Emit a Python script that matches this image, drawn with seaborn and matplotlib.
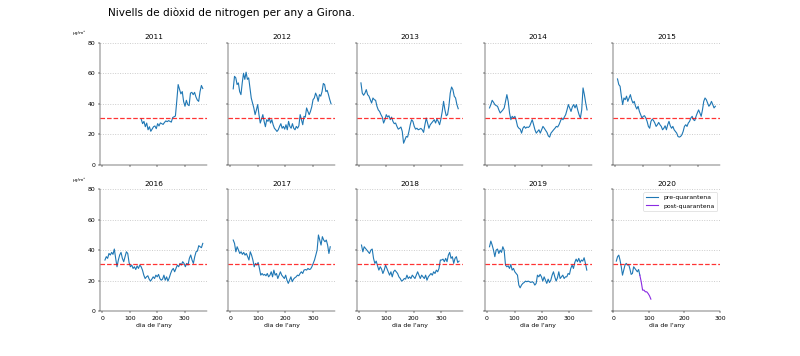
import numpy as np
import matplotlib
matplotlib.use("Agg")
import matplotlib.pyplot as plt
import seaborn as sns

years = [2011, 2012, 2013, 2014, 2015, 2016, 2017, 2018, 2019, 2020]
limit = 31

# first and last day covered by each year's series
day_range = {
    2011: (142, 366), 2012: (10, 366), 2013: (8, 362), 2014: (9, 364),
    2015: (8, 364), 2016: (10, 366), 2017: (10, 363), 2018: (10, 365),
    2019: (9, 363),
}

v2011 = [30, 27, 28.5, 25, 27.4, 23, 25, 22, 23.5, 25, 25.5, 23.7, 27, 25.5, 27.5, 27, 26.5, 27.8,
         28.8, 28.3, 29, 28.5, 28, 31, 31.5, 32, 42, 52.6, 49.5, 46.5, 48, 41.5, 38.4, 42.3, 39.5,
         38.8, 47, 47.5, 46, 47.5, 44.5, 42.5, 41.6, 48, 52, 50]
v2012 = [49.8, 58, 57, 52.6, 53.7, 48, 46, 53.7, 60, 56, 60.7, 56, 57, 50.4, 43.8, 40.5, 37.3, 32.9,
         36, 39.5, 32.9, 27.4, 30, 32.9, 28.5, 25, 29.6, 28.5, 30.7, 27.4, 29.6, 26.3, 24, 23, 21.9,
         23, 25.2, 27, 24, 25.2, 23.4, 26.3, 23, 28.5, 25.2, 24, 27, 24, 23, 25.2, 24, 25.6, 32.9,
         29.6, 26.3, 31.8, 31.3, 37.3, 35, 32.9, 35, 38, 42.7, 43.8, 47, 45, 41.6, 46, 45, 48, 53.3,
         52.6, 48, 48.8, 46, 42.7, 40]
v2013 = [53.7, 47, 45.6, 47, 49.3, 46, 45, 42.7, 40.5, 43.8, 42.7, 42.3, 38.4, 36, 35, 32.9, 31.3,
         27.4, 29.6, 32.9, 31.3, 32.2, 29.6, 31.3, 28.5, 27, 27.4, 25.2, 23.4, 24, 24.8, 21.9, 14.2,
         16.4, 18.6, 18.2, 21.9, 26.3, 29.6, 28.5, 25.2, 23.4, 24, 23, 23.4, 23.9, 23, 21.3, 26.3,
         30.7, 27.4, 24, 26.3, 27.4, 28.5, 29.6, 27.4, 30, 28.5, 26.3, 30, 35, 41.6, 36, 32.2, 32.9,
         38.4, 47, 51, 49.3, 45, 43.8, 39.5, 36.8]
v2014 = [37.3, 39.5, 42.3, 41, 39.5, 38.8, 38.4, 36, 34, 35, 36, 37.3, 41.6, 46, 41.6, 34, 29.6,
         31.8, 30.7, 31.8, 29, 25.2, 24, 23.4, 20.8, 24, 25.2, 24, 24.8, 24.5, 25.2, 27.4, 29.6, 26.3,
         23, 20.8, 21.9, 23, 20.8, 23, 25.2, 24, 22.6, 21.3, 19, 18.2, 20.8, 21.9, 23, 24, 25.2, 24.8,
         26.3, 28.5, 30.7, 29.6, 31.3, 32.9, 36, 39.5, 37.3, 35, 38, 39.5, 37.3, 39.5, 36, 32.9, 30.7,
         36, 50.4, 46, 40.5, 36]
v2015 = [56.3, 52.6, 51.5, 45, 39.5, 43.8, 42.7, 45, 41.6, 43.8, 46, 42.7, 40.5, 41.6, 38.4, 36.6,
         38.4, 35, 32.9, 30.7, 31.8, 32.2, 30.7, 28.5, 25.2, 24, 28.5, 30, 29, 27.4, 25.2, 26.3, 27.8,
         26.3, 25.2, 23, 24, 25.6, 23, 26.3, 28.5, 25.6, 24, 25.2, 23, 21.9, 20.8, 18.6, 18.2, 18.6,
         19.7, 21.9, 25.2, 26.3, 25.2, 27.4, 28.5, 30.7, 31.8, 29.6, 29, 31.8, 34, 36, 34, 31.8, 36,
         41.6, 43.8, 42.7, 40.5, 38.4, 39.5, 41.6, 39.5, 37.3, 38.4]
v2016 = [33.7, 35.9, 34.8, 38, 37, 38.7, 37.4, 40.9, 34.8, 29.3, 33.7, 37, 38.7, 34.8, 32.6, 35.9,
         39.1, 38, 32.1, 29.3, 30.4, 28.2, 29.3, 27.5, 29.9, 28.2, 30.4, 29.3, 27.1, 23.8, 21.6, 22.7,
         23.4, 21.2, 19.9, 21.2, 22.7, 21.6, 23.8, 22.7, 24.3, 21.6, 20.5, 21.2, 23.8, 20.5, 22.7,
         19.9, 22.1, 24.9, 27.1, 28.2, 26, 28.2, 30.4, 29.3, 31.5, 30.4, 32.6, 31.5, 29.3, 31.5, 30.4,
         34.8, 37, 33.7, 31.5, 35.9, 39.1, 39.6, 43.1, 42.4, 41.8, 44.6]
v2017 = [46.8, 44.6, 39.1, 42.4, 40.2, 38, 39.1, 37.4, 38.7, 36.9, 38, 35.9, 33.7, 39.1, 36.9, 33.7,
         29.3, 31.5, 30.4, 32.1, 28.2, 23.8, 24.9, 23.8, 24.3, 23.4, 24.9, 22.7, 23.8, 26, 22.7, 27.1,
         23.8, 24.9, 21.6, 23.8, 26, 23.8, 22.7, 21.6, 23.8, 20.5, 18.4, 20.5, 22.7, 19.5, 21.2, 22.1,
         22.7, 23.8, 23.4, 24.9, 26, 24.9, 27.1, 27.5, 27.1, 28.2, 27.5, 27.8, 29.3, 31.5, 33.7, 36.9,
         40.2, 50.1, 46.8, 43.5, 49, 46.8, 45.7, 46.8, 43.5, 38, 42.4]
v2018 = [43.5, 39.1, 42.4, 41.3, 40.2, 39.1, 38, 40.2, 40.9, 34.8, 31.5, 33, 29.9, 27.1, 29.3, 27.8,
         24.9, 27.1, 30.4, 28.2, 26, 23.8, 26, 22.7, 26, 27.1, 26, 24.9, 22.7, 21.6, 19.9, 20.5, 21.6,
         21.2, 23.8, 21.6, 22.7, 21.6, 23.8, 22.7, 21.6, 23.8, 26, 23.8, 21.6, 23.8, 22.7, 21.6, 23.8,
         20.5, 22.7, 23.8, 24.9, 23.8, 26, 24.9, 27.1, 26, 28.2, 33.7, 33.7, 34.3, 32.6, 34.8, 32.6,
         36.9, 38.7, 34.8, 35.9, 31.5, 34.8, 35.9, 32.1, 33]
v2019 = [42.4, 46.1, 43.5, 40.2, 35.9, 40.2, 40.9, 38, 40.2, 38.7, 42.4, 40.2, 30.4, 29.3, 29.9, 28.2,
         30.8, 27.1, 28.2, 26, 24.9, 23.8, 17.3, 15.5, 17.3, 18.4, 19, 19.9, 19.5, 19.9, 19.5, 19,
         19.5, 19, 17.3, 18.4, 23.8, 22.7, 24.3, 22.7, 19.9, 22.7, 20.5, 18.4, 21.2, 19, 20.5, 23.8,
         26, 22.7, 19.9, 22.1, 26, 21.6, 22.7, 23.8, 21.6, 22.7, 22.7, 24.9, 24.3, 28.2, 30.4, 28.2,
         32.1, 34.3, 32.6, 34.8, 32.1, 33.7, 33, 35.2, 31.5, 27.1]

# 2020: before and after the lockdown (day ~75)
pre_days = (9, 75)
pre_2020 = [33, 35.9, 36.9, 33.7, 29.3, 23.8, 27.1, 30.4, 31.5, 30.4, 30.8, 27.8, 24.3, 24.9, 29.3,
            28.2, 27.1, 26, 27.5, 23.8]
post_days = (75, 106)
post_2020 = [23.8, 19.5, 14, 14, 12.9, 12.9, 11.8, 10.3, 8.1]

series = {2011: v2011, 2012: v2012, 2013: v2013, 2014: v2014, 2015: v2015,
          2016: v2016, 2017: v2017, 2018: v2018, 2019: v2019}

blue = '#1f77b4'
fig, axes = plt.subplots(2, 5, figsize=(18, 8.01), sharey=True)
fig.subplots_adjust(left=0.125, right=0.9, top=0.88, bottom=0.125, wspace=0.2, hspace=0.2)

for i, year in enumerate(years):
    ax = axes.flat[i]
    if year in series:
        vals = series[year]
        d0, d1 = day_range[year]
        days = np.linspace(d0, d1, len(vals))
        sns.lineplot(x=days, y=vals, ax=ax, color=blue, lw=1.8)
        ax.set_xlim(-8, 381)
    else:
        dp = np.linspace(pre_days[0], pre_days[1], len(pre_2020))
        dq = np.linspace(post_days[0], post_days[1], len(post_2020))
        sns.lineplot(x=dp, y=pre_2020, ax=ax, color=blue, lw=1.8, label='pre-quarantena')
        sns.lineplot(x=dq, y=post_2020, ax=ax, color='blueviolet', lw=1.8, label='post-quarantena')
        ax.set_xlim(0, 300)
        ax.legend(loc='upper right')
    ax.axhline(limit, color='red', ls='--', lw=2, alpha=0.8)
    ax.set_ylim(0, 80)
    ax.set_yticks([0, 20, 40, 60, 80])
    ax.set_xticks([0, 100, 200, 300])
    ax.yaxis.grid(True, linestyle=':', color='#c8c8c8', lw=1.5)
    ax.set_axisbelow(True)
    ax.set_title(str(year))
    if i < 5:
        ax.tick_params(labelbottom=False)
    else:
        ax.set_xlabel("dia de l'any")
    if i % 5 == 0:
        ax.text(-0.13, 1.08, 'µg/m³', transform=ax.transAxes, ha='right', va='center', fontsize=7)

sns.despine(fig)
fig.text(0.135, 0.965, 'Nivells de diòxid de nitrogen per any a Girona.', ha='left', va='center',
         fontsize=17)

fig.savefig('out.png', dpi=800 / 18)
